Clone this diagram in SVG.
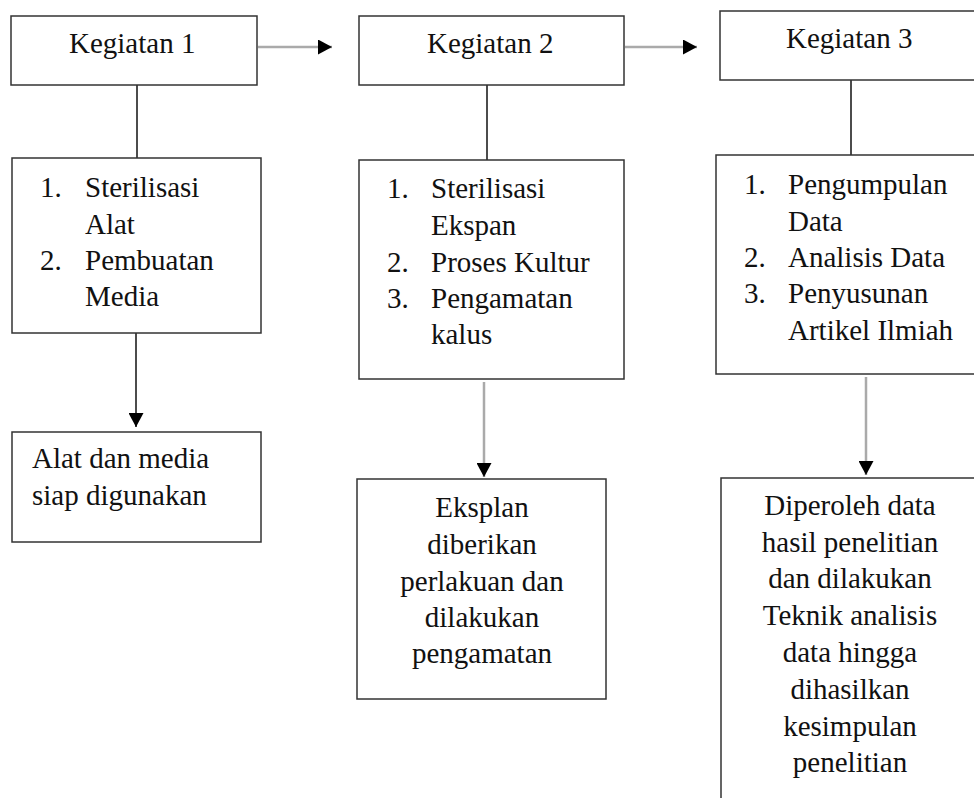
<svg xmlns="http://www.w3.org/2000/svg" width="974" height="798" viewBox="0 0 974 798">
<style>
.box{fill:#fff;stroke:#333;stroke-width:1.5}
.t{font-family:'Liberation Serif','Times New Roman',Times,'DejaVu Serif',serif;font-size:29px;fill:#111}
.c{text-anchor:middle}
.ln{fill:none;stroke:#111;stroke-width:1.5}
.g{fill:none;stroke:#aaa;stroke-width:2.5}
</style>
<defs>
<marker id="ah" viewBox="0 0 14 15" refX="14" refY="7.5" markerWidth="14" markerHeight="15" markerUnits="userSpaceOnUse" orient="auto">
<path d="M0,0 L14,7.5 L0,15 z" fill="#000"/>
</marker>
</defs>
<rect width="974" height="798" fill="#fff"/>
<g id="connectors">
<line class="g" x1="258" y1="47" x2="332" y2="47" marker-end="url(#ah)"/>
<line class="g" x1="625" y1="47" x2="697" y2="47" marker-end="url(#ah)"/>
<line class="ln" x1="137" y1="85" x2="137" y2="158"/>
<line class="ln" x1="487" y1="85" x2="487" y2="160"/>
<line class="ln" x1="851" y1="80" x2="851" y2="155"/>
<line class="ln" x1="136" y1="333" x2="136" y2="427" marker-end="url(#ah)"/>
<line class="g" x1="484" y1="382" x2="484" y2="477" marker-end="url(#ah)"/>
<line class="g" x1="866" y1="377" x2="866" y2="475" marker-end="url(#ah)"/>
</g>
<g id="k1">
<rect class="box" x="11" y="16" width="246" height="69"/>
<text class="t" x="69" y="53" font-family="Liberation Serif, serif">Kegiatan 1</text>
</g>
<g id="k2">
<rect class="box" x="359" y="16" width="265" height="69"/>
<text class="t" x="427" y="53">Kegiatan 2</text>
</g>
<g id="k3">
<rect class="box" x="720" y="11" width="270" height="69"/>
<text class="t" x="786" y="48">Kegiatan 3</text>
</g>
<g id="k1-list">
<rect class="box" x="12" y="158" width="249" height="175"/>
<text class="t" x="40" y="197">1.</text>
<text class="t" x="85" y="197">Sterilisasi</text>
<text class="t" x="85" y="234">Alat</text>
<text class="t" x="40" y="270">2.</text>
<text class="t" x="85" y="270">Pembuatan</text>
<text class="t" x="85" y="306">Media</text>
</g>
<g id="k2-list">
<rect class="box" x="359" y="160" width="265" height="219"/>
<text class="t" x="387" y="198">1.</text>
<text class="t" x="431" y="198">Sterilisasi</text>
<text class="t" x="431" y="235">Ekspan</text>
<text class="t" x="387" y="272">2.</text>
<text class="t" x="431" y="272">Proses Kultur</text>
<text class="t" x="387" y="308">3.</text>
<text class="t" x="431" y="308">Pengamatan</text>
<text class="t" x="431" y="344">kalus</text>
</g>
<g id="k3-list">
<rect class="box" x="716" y="155" width="274" height="219"/>
<text class="t" x="744" y="194">1.</text>
<text class="t" x="788" y="194">Pengumpulan</text>
<text class="t" x="788" y="231">Data</text>
<text class="t" x="744" y="267">2.</text>
<text class="t" x="788" y="267">Analisis Data</text>
<text class="t" x="744" y="303">3.</text>
<text class="t" x="788" y="303">Penyusunan</text>
<text class="t" x="788" y="340">Artikel Ilmiah</text>
</g>
<g id="k1-out">
<rect class="box" x="12" y="432" width="249" height="110"/>
<text class="t" x="32" y="468">Alat dan media</text>
<text class="t" x="32" y="505">siap digunakan</text>
</g>
<g id="k2-out">
<rect class="box" x="357" y="479" width="249" height="220"/>
<text class="t c" x="482" y="517">Eksplan</text>
<text class="t c" x="482" y="554">diberikan</text>
<text class="t c" x="482" y="591">perlakuan dan</text>
<text class="t c" x="482" y="627">dilakukan</text>
<text class="t c" x="482" y="663">pengamatan</text>
</g>
<g id="k3-out">
<rect class="box" x="721" y="478" width="270" height="330"/>
<text class="t c" x="850" y="515">Diperoleh data</text>
<text class="t c" x="850" y="552">hasil penelitian</text>
<text class="t c" x="850" y="588">dan dilakukan</text>
<text class="t c" x="850" y="625">Teknik analisis</text>
<text class="t c" x="850" y="662">data hingga</text>
<text class="t c" x="850" y="699">dihasilkan</text>
<text class="t c" x="850" y="736">kesimpulan</text>
<text class="t c" x="850" y="772">penelitian</text>
</g>
</svg>
